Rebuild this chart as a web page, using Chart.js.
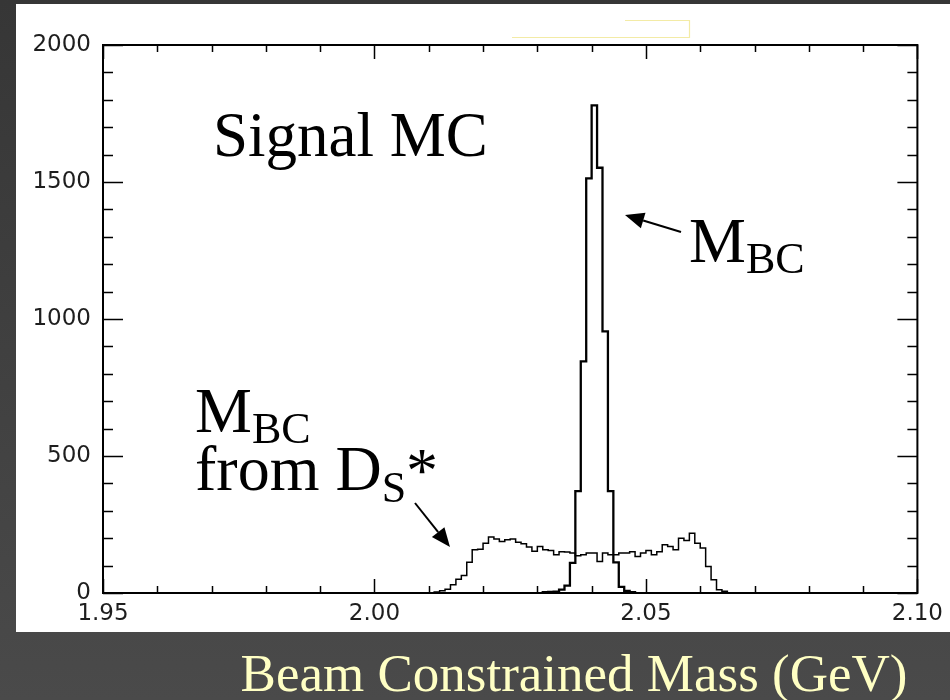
<!DOCTYPE html>
<html>
<head>
<meta charset="utf-8">
<title>Beam Constrained Mass</title>
<script src="https://cdn.jsdelivr.net/npm/chart.js@4.4.1/dist/chart.umd.min.js"></script>
<style>
  html, body { margin: 0; padding: 0; background: #3e3e3e; }
  #wrap { width: 950px; height: 700px; }
</style>
</head>
<body>
<div id="wrap"><canvas id="mbcChart" width="950" height="700"></canvas></div>
<script>
// histogram bins are 1 MeV wide
const binWidth = 0.001;

// signal MC, M_BC of the Ds candidate (first bin starts at 2.031 GeV)
const signalStart = 2.031;
const signalCounts = [3, 4, 5, 12, 27, 110, 372, 845, 1513, 1780, 1552, 955, 372, 112, 22, 8, 3];

// M_BC computed from the Ds* (first bin starts at 2.011 GeV)
const dsStarStart = 2.011;
const dsStarCounts = [
  4, 8, 14, 30, 50, 64, 112, 158, 160, 182,
  204, 197, 188, 194, 197, 185, 180, 168, 152, 170,
  158, 155, 140, 151, 150, 146, 136, 140, 146, 146,
  115, 146, 140, 140, 146, 146, 151, 133, 146, 155,
  140, 151, 176, 170, 158, 200, 192, 218, 182, 164,
  97, 48, 12, 6
];

const xTicks = [1.95, 2.00, 2.05, 2.10];
const yTicks = [0, 500, 1000, 1500, 2000];

// turn bin contents into step points (left edge of each bin, closed at both ends)
function toSteps(start, counts) {
  const pts = [{ x: start, y: 0 }];
  counts.forEach((c, i) => pts.push({ x: start + i * binWidth, y: c }));
  pts.push({ x: start + counts.length * binWidth, y: 0 });
  return pts;
}

const serif = '"Liberation Serif", "Times New Roman", serif';

function arrow(ctx, x0, y0, x1, y1) {
  const a = Math.atan2(y1 - y0, x1 - x0);
  const len = 19, half = 8;
  const bx = x1 - len * Math.cos(a), by = y1 - len * Math.sin(a);
  ctx.beginPath();
  ctx.moveTo(x0, y0);
  ctx.lineTo(bx, by);
  ctx.stroke();
  ctx.beginPath();
  ctx.moveTo(x1, y1);
  ctx.lineTo(bx + half * Math.sin(a), by - half * Math.cos(a));
  ctx.lineTo(bx - half * Math.sin(a), by + half * Math.cos(a));
  ctx.closePath();
  ctx.fill();
}

// text with a lowered, smaller subscript; returns the x after it
function subText(ctx, main, sub, x, y, size, subSize, drop) {
  ctx.font = size + 'px ' + serif;
  ctx.fillText(main, x, y);
  const w = ctx.measureText(main).width;
  ctx.font = subSize + 'px ' + serif;
  ctx.fillText(sub, x + w, y + drop);
  return x + w + ctx.measureText(sub).width;
}

const framePlugin = {
  id: 'frame',
  beforeDraw(chart) {
    const ctx = chart.ctx;
    ctx.save();
    const g = ctx.createLinearGradient(0, 0, 0, chart.height);
    g.addColorStop(0, '#363636');
    g.addColorStop(1, '#4a4a4a');
    ctx.fillStyle = g;
    ctx.fillRect(0, 0, chart.width, chart.height);
    ctx.fillStyle = '#ffffff';
    ctx.fillRect(16, 4, chart.width - 16, 628);
    // pale box outline near the top edge
    ctx.strokeStyle = '#f3eba6';
    ctx.lineWidth = 1.2;
    ctx.beginPath();
    ctx.moveTo(512, 37.5);
    ctx.lineTo(689.5, 37.5);
    ctx.lineTo(689.5, 20.5);
    ctx.lineTo(625, 20.5);
    ctx.stroke();
    ctx.restore();
  },
  afterDatasetsDraw(chart) {
    const ctx = chart.ctx;
    const { left, right, top, bottom } = chart.chartArea;
    const xs = chart.scales.x, ys = chart.scales.y;
    ctx.save();
    ctx.strokeStyle = '#000';
    ctx.lineWidth = 2;
    ctx.strokeRect(left, top, right - left, bottom - top);

    ctx.lineWidth = 1.5;
    ctx.beginPath();
    for (let k = 0; k <= 15; k++) {
      const px = Math.round(xs.getPixelForValue(1.95 + k * 0.01)) + 0.5;
      const len = k % 5 === 0 ? 14 : 7;
      ctx.moveTo(px, bottom); ctx.lineTo(px, bottom - len);
      ctx.moveTo(px, top); ctx.lineTo(px, top + len);
    }
    for (let k = 0; k <= 20; k++) {
      const py = Math.round(ys.getPixelForValue(k * 100)) + 0.5;
      const len = k % 5 === 0 ? 20 : 10;
      ctx.moveTo(left, py); ctx.lineTo(left + len, py);
      ctx.moveTo(right, py); ctx.lineTo(right - len, py);
    }
    ctx.stroke();

    // annotations
    ctx.fillStyle = '#000';
    ctx.textBaseline = 'alphabetic';
    ctx.font = '63px ' + serif;
    ctx.fillText('Signal MC', 213, 156);

    subText(ctx, 'M', 'BC', 689, 262, 64, 44, 11);
    ctx.lineWidth = 2;
    arrow(ctx, 681, 232, 625, 215);

    subText(ctx, 'M', 'BC', 195, 432, 64, 44, 11);
    const after = subText(ctx, 'from D', 'S', 195, 490, 64, 44, 12);
    ctx.font = '64px ' + serif;
    ctx.fillText('*', after, 492);
    arrow(ctx, 415, 503, 450, 547);
    ctx.restore();
  },
  afterDraw(chart) {
    const ctx = chart.ctx;
    ctx.save();
    ctx.fillStyle = '#ffffc4';
    ctx.font = '53px ' + serif;
    ctx.textAlign = 'center';
    ctx.fillText('Beam Constrained Mass (GeV)', 574, 691);
    ctx.restore();
  }
};

const ctx = document.getElementById('mbcChart');
if (ctx) {
  new Chart(ctx.getContext('2d'), {
    type: 'line',
    data: {
      datasets: [
        {
          label: 'M_BC from Ds*',
          data: toSteps(dsStarStart, dsStarCounts),
          borderColor: '#000',
          borderWidth: 1.5,
          stepped: 'before',
          pointRadius: 0,
          fill: false
        },
        {
          label: 'M_BC signal MC',
          data: toSteps(signalStart, signalCounts),
          borderColor: '#000',
          borderWidth: 2.3,
          stepped: 'before',
          pointRadius: 0,
          fill: false
        }
      ]
    },
    options: {
      responsive: false,
      animation: false,
      devicePixelRatio: 1,
      layout: { padding: { left: 16, top: 45, right: 29, bottom: 0 } },
      plugins: { legend: { display: false }, tooltip: { enabled: false } },
      scales: {
        x: {
          type: 'linear',
          min: 1.95,
          max: 2.10,
          grid: { display: false, drawTicks: false },
          border: { display: false },
          afterBuildTicks: s => { s.ticks = xTicks.map(v => ({ value: v })); },
          afterFit: s => { s.height = 107; },
          ticks: {
            padding: 7,
            color: '#1e1e1e',
            maxRotation: 0,
            autoSkip: false,
            font: { family: '"DejaVu Sans", sans-serif', size: 23 },
            callback: v => Number(v).toFixed(2)
          }
        },
        y: {
          min: 0,
          max: 2000,
          grid: { display: false, drawTicks: false },
          border: { display: false },
          afterBuildTicks: s => { s.ticks = yTicks.map(v => ({ value: v })); },
          afterFit: s => { s.width = 87; },
          ticks: {
            padding: 12,
            color: '#1e1e1e',
            font: { family: '"DejaVu Sans", sans-serif', size: 23 },
            callback: v => String(v)
          }
        }
      }
    },
    plugins: [framePlugin]
  });
} else {
  console.error("Canvas element with id 'mbcChart' not found.");
}
</script>
</body>
</html>
